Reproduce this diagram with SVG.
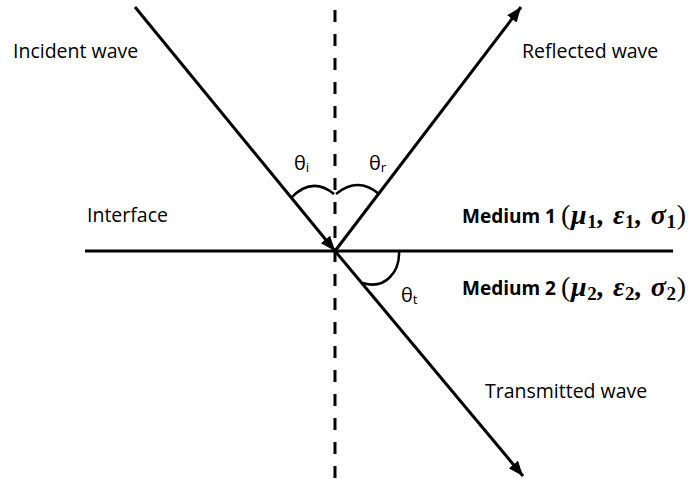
<svg xmlns="http://www.w3.org/2000/svg" width="689" height="479" viewBox="0 0 689 479">
<style>
.ln{stroke:#000;stroke-width:3;fill:none}
.dash{stroke:#000;stroke-width:3;fill:none;stroke-dasharray:12 12}
.arc{stroke:#000;stroke-width:2.5;fill:none}
.lbl{font-family:"Open Sans","Liberation Sans",sans-serif;font-size:19.5px;fill:#000}
.bold{font-weight:bold}
.th{font-family:"Open Sans","Liberation Sans",sans-serif;font-size:20px;fill:#000}
.th .s{font-size:13.5px}
.math{font-family:"Liberation Serif","DejaVu Serif",serif;font-style:italic;font-weight:bold;font-size:28px;fill:#000}
.math .s{font-style:normal;font-size:19px}
.math .p{font-style:normal;font-weight:normal;font-size:28px}
</style>
<defs>
<marker id="ah" markerUnits="userSpaceOnUse" markerWidth="16" markerHeight="12" refX="15" refY="6" orient="auto">
<path d="M0,0 L15,6 L0,12 z" fill="#000"/>
</marker>
</defs>
<rect width="689" height="479" fill="#fff"/>
<g id="connectors">
<line id="normal" class="dash" x1="335" y1="10" x2="335" y2="479"/>
<line id="interface-line" class="ln" x1="85" y1="251" x2="673" y2="251"/>
<line id="incident" class="ln" x1="135" y1="7" x2="335" y2="251" marker-end="url(#ah)"/>
<line id="reflected" class="ln" x1="335" y1="251" x2="521" y2="7" marker-end="url(#ah)"/>
<line id="transmitted" class="ln" x1="335" y1="251" x2="523" y2="476" marker-end="url(#ah)"/>
<path id="arc-i" class="arc" d="M291,198 Q312,176 334,194"/>
<path id="arc-r" class="arc" d="M336,194 Q358,176 379,194"/>
<path id="arc-t" class="arc" d="M399,251 C400,272 385,290 363,283"/>
</g>
<g id="incident-label"><text class="lbl" x="13" y="58">Incident wave</text></g>
<g id="reflected-label"><text class="lbl" x="522" y="58">Reflected wave</text></g>
<g id="interface-label"><text class="lbl" x="87" y="222">Interface</text></g>
<g id="transmitted-label"><text class="lbl" x="485" y="398">Transmitted wave</text></g>
<g id="theta-i"><text class="th" x="294" y="170">θ<tspan class="s" dy="2">i</tspan></text></g>
<g id="theta-r"><text class="th" x="369" y="170">θ<tspan class="s" dy="2">r</tspan></text></g>
<g id="theta-t"><text class="th" x="401" y="302">θ<tspan class="s" dy="2">t</tspan></text></g>
<g id="medium-1">
<text class="lbl bold" x="462" y="223" textLength="94" lengthAdjust="spacingAndGlyphs">Medium 1</text>
<text class="math" x="561" y="224" textLength="125" lengthAdjust="spacing"><tspan class="p">(</tspan>μ<tspan class="s" dy="4">1</tspan><tspan dy="-4">, ε</tspan><tspan class="s" dy="4">1</tspan><tspan dy="-4">, σ</tspan><tspan class="s" dy="4">1</tspan><tspan class="p" dy="-4">)</tspan></text>
</g>
<g id="medium-2">
<text class="lbl bold" x="462" y="295" textLength="94" lengthAdjust="spacingAndGlyphs">Medium 2</text>
<text class="math" x="561" y="296" textLength="125" lengthAdjust="spacing"><tspan class="p">(</tspan>μ<tspan class="s" dy="4">2</tspan><tspan dy="-4">, ε</tspan><tspan class="s" dy="4">2</tspan><tspan dy="-4">, σ</tspan><tspan class="s" dy="4">2</tspan><tspan class="p" dy="-4">)</tspan></text>
</g>
</svg>
